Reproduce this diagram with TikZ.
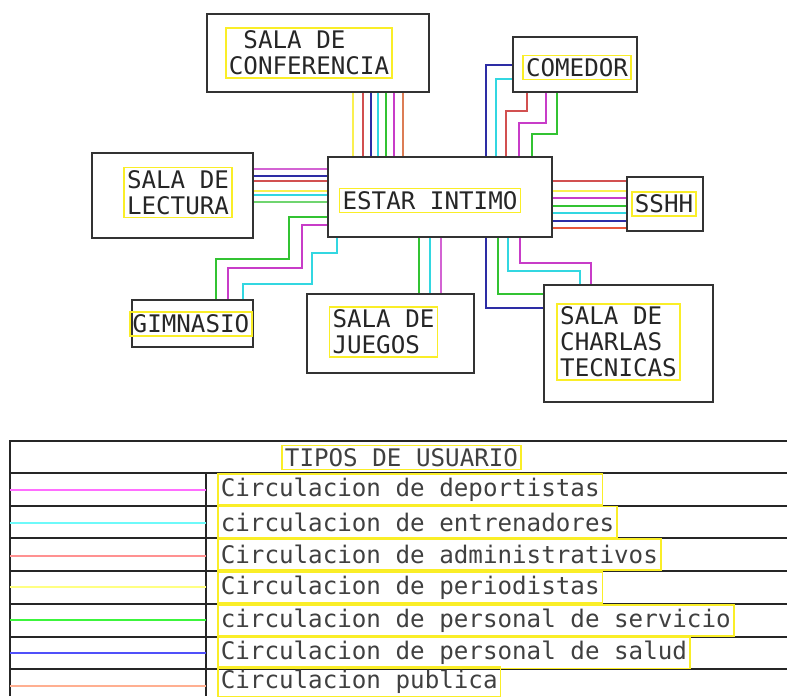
\documentclass[tikz,border=0pt]{standalone}
\usepackage{fontspec}
\usepackage{tikz}
\usetikzlibrary{positioning,calc}
\newfontfamily\cadfont{DejaVu Sans Mono}

% diagram colours
\definecolor{cMag}{RGB}{200,60,200}
\definecolor{cCya}{RGB}{50,215,225}
\definecolor{cRed}{RGB}{210,80,80}
\definecolor{cYel}{RGB}{250,240,80}
\definecolor{cGrn}{RGB}{50,195,50}
\definecolor{cBlu}{RGB}{45,45,165}
\definecolor{cOra}{RGB}{220,125,85}
% legend colours
\definecolor{lMag}{RGB}{255,110,255}
\definecolor{lCya}{RGB}{110,250,250}
\definecolor{lRed}{RGB}{255,145,145}
\definecolor{lYel}{RGB}{255,255,130}
\definecolor{lGrn}{RGB}{60,245,60}
\definecolor{lBlu}{RGB}{80,80,250}
\definecolor{lOra}{RGB}{255,175,145}
\definecolor{cadyellow}{RGB}{250,238,40}

\begin{document}
\begin{tikzpicture}[
  x=1pt,y=-1pt,
  room/.style={rectangle,draw=black!80,line width=1.9pt,inner sep=0pt},
  roomlab/.style={rectangle,draw=cadyellow,line width=1.6pt,inner sep=3pt,align=left,text=black!85,font=\cadfont\fontsize{24.2}{26}\selectfont},
  rowlab/.style={roomlab,anchor=west,minimum height=31pt,text=black!75},
  wire/.style={line width=1.8pt},
  swatch/.style={line width=1.8pt},
  grid/.style={draw=black!85,line width=1.8pt},
]
\useasboundingbox (0,0) rectangle (787,696);

% Rooms
\node[room,minimum width=222pt,minimum height=78pt] (conf) at (318,53) {};
\node[roomlab] (conflab) at (309,53) {\phantom{C}SALA DE\\CONFERENCIA};

\node[room,minimum width=224pt,minimum height=80pt] (estar) at (440,197) {};
\node[roomlab] (estarlab) at (430,200.5) {ESTAR INTIMO};

\node[room,minimum width=124pt,minimum height=55pt] (com) at (575,64.5) {};
\node[roomlab] (comlab) at (577,67.5) {COMEDOR};

\node[room,minimum width=76pt,minimum height=54pt] (sshh) at (665,204) {};
\node[roomlab] (sshhlab) at (664,204) {SSHH};

\node[room,minimum width=161pt,minimum height=85pt] (lect) at (172.5,195.5) {};
\node[roomlab] (lectlab) at (178,192.5) {SALA DE\\LECTURA};

\node[room,minimum width=121pt,minimum height=47pt] (gym) at (192.5,323.5) {};
\node[roomlab] (gymlab) at (191,324) {GIMNASIO};

\node[room,minimum width=167pt,minimum height=79pt] (jue) at (390.5,333.5) {};
\node[roomlab] (juelab) at (383.5,332) {SALA DE\\JUEGOS};

\node[room,minimum width=169pt,minimum height=117pt] (charl) at (628.5,343.5) {};
\node[roomlab] (charllab) at (618.5,342) {SALA DE\\CHARLAS\\TECNICAS};

% Conferencia -> Estar intimo
\draw[wire,cYel] (353,0 |- conf.south) -- (353,0 |- estar.north);
\draw[wire,cRed] (363,0 |- conf.south) -- (363,0 |- estar.north);
\draw[wire,cBlu] (371,0 |- conf.south) -- (371,0 |- estar.north);
\draw[wire,cCya] (378,0 |- conf.south) -- (378,0 |- estar.north);
\draw[wire,cGrn] (386,0 |- conf.south) -- (386,0 |- estar.north);
\draw[wire,cMag] (394,0 |- conf.south) -- (394,0 |- estar.north);
\draw[wire,cOra] (403,0 |- conf.south) -- (403,0 |- estar.north);

% Comedor -> Estar intimo
\draw[wire,cBlu] (com.west |- 0,65) -| (486,0 |- estar.north);
\draw[wire,cCya] (com.west |- 0,79) -| (496,0 |- estar.north);
\draw[wire,cRed] (527,0 |- com.south) |- (506,111) -- (506,0 |- estar.north);
\draw[wire,cMag] (546,0 |- com.south) |- (519,123) -- (519,0 |- estar.north);
\draw[wire,cGrn] (557,0 |- com.south) |- (532,134) -- (532,0 |- estar.north);

% Estar intimo -> SSHH
\draw[wire,cRed] (estar.east |- 0,181) -- (sshh.west |- 0,181);
\draw[wire,cYel] (estar.east |- 0,191) -- (sshh.west |- 0,191);
\draw[wire,cMag] (estar.east |- 0,198) -- (sshh.west |- 0,198);
\draw[wire,cGrn] (estar.east |- 0,206) -- (sshh.west |- 0,206);
\draw[wire,cCya] (estar.east |- 0,213) -- (sshh.west |- 0,213);
\draw[wire,cBlu] (estar.east |- 0,221) -- (sshh.west |- 0,221);
\draw[wire,cOra!70!red] (estar.east |- 0,228) -- (sshh.west |- 0,228);

% Lectura -> Estar intimo
\draw[wire,cMag!80] (lect.east |- 0,169) -- (estar.west |- 0,169);
\draw[wire,cBlu] (lect.east |- 0,176) -- (estar.west |- 0,176);
\draw[wire,cRed] (lect.east |- 0,181) -- (estar.west |- 0,181);
\draw[wire,cYel] (lect.east |- 0,191) -- (estar.west |- 0,191);
\draw[wire,cCya] (lect.east |- 0,195) -- (estar.west |- 0,195);
\draw[wire,cGrn!70] (lect.east |- 0,202) -- (estar.west |- 0,202);

% Estar intimo -> Gimnasio
\draw[wire,cGrn] (estar.west |- 0,217) -| (289,259) -| (216,0 |- gym.north);
\draw[wire,cMag] (estar.west |- 0,225) -| (302,268) -| (228,0 |- gym.north);
\draw[wire,cCya] (337,0 |- estar.south) |- (312,253) |- (243,284) -- (243,0 |- gym.north);

% Estar intimo -> Juegos
\draw[wire,cGrn] (419,0 |- estar.south) -- (419,0 |- jue.north);
\draw[wire,cCya] (430,0 |- estar.south) -- (430,0 |- jue.north);
\draw[wire,cMag!80] (441,0 |- estar.south) -- (441,0 |- jue.north);

% Estar intimo -> Charlas tecnicas
\draw[wire,cBlu] (486,0 |- estar.south) |- (charl.west |- 0,308);
\draw[wire,cGrn] (498,0 |- estar.south) |- (charl.west |- 0,294);
\draw[wire,cCya] (508,0 |- estar.south) |- (580,271) -- (580,0 |- charl.north);
\draw[wire,cMag] (520,0 |- estar.south) |- (591,263) -- (591,0 |- charl.north);

% Legend table
\draw[grid] (10,696) -- (10,441) -- (787,441);
\draw[grid] (10,473) -- (787,473);
\draw[grid] (10,506) -- (787,506);
\draw[grid] (10,538) -- (787,538);
\draw[grid] (10,571) -- (787,571);
\draw[grid] (10,604) -- (787,604);
\draw[grid] (10,637) -- (787,637);
\draw[grid] (10,669) -- (787,669);
\draw[grid] (206,473) -- (206,696);
\node[roomlab,text=black!75] (title) at (401.5,457.5) {TIPOS DE USUARIO};

\draw[swatch,lMag] (10,490) -- (206,490);
\node[rowlab] (r1) at (217,489.5) {Circulacion de deportistas};
\draw[swatch,lCya] (10,523) -- (206,523);
\node[rowlab] (r2) at (217,522) {circulacion de entrenadores};
\draw[swatch,lRed] (10,556) -- (206,556);
\node[rowlab] (r3) at (217,554.5) {Circulacion de administrativos};
\draw[swatch,lYel] (10,587) -- (206,587);
\node[rowlab] (r4) at (217,587.5) {Circulacion de periodistas};
\draw[swatch,lGrn] (10,620) -- (206,620);
\node[rowlab] (r5) at (217,620.5) {circulacion de personal de servicio};
\draw[swatch,lBlu] (10,653) -- (206,653);
\node[rowlab] (r6) at (217,653) {Circulacion de personal de salud};
\draw[swatch,lOra] (10,686) -- (206,686);
\node[rowlab,minimum height=26pt] (r7) at (217,682) {Circulacion publica};
\end{tikzpicture}
\end{document}
